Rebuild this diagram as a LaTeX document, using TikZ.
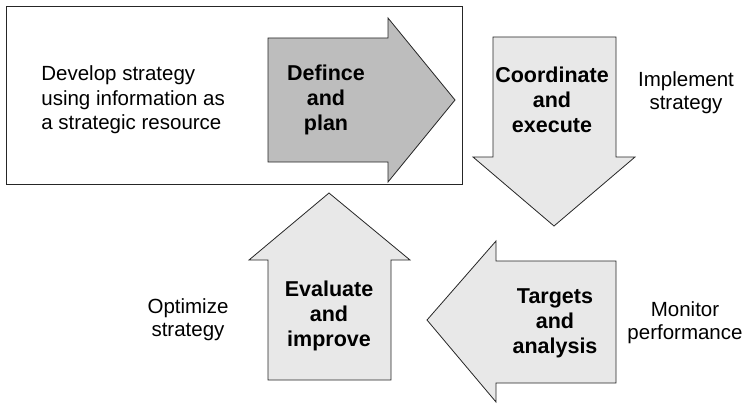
\documentclass[tikz,border=0pt]{standalone}
\usepackage{fontspec}
\setmainfont{Liberation Sans}
\usepackage{tikz}

\begin{document}
\begin{tikzpicture}[x=1pt,y=1pt,line width=0.8pt]
\tikzstyle{every node}+=[inner sep=0pt, align=center, font=\fontsize{20.5}{23}\selectfont]
\tikzstyle{label}=[font=\fontsize{21.5}{25}\selectfont\bfseries]
\tikzstyle{dark}=[draw=black!85, fill=black!26]
\tikzstyle{light}=[draw=black!85, fill=black!9]
\useasboundingbox (0,0) rectangle (747,-404);
\draw [black!85] (6,-6) rectangle (462,-184);
\draw (41,-100) node [anchor=west, align=left, font=\fontsize{20.5}{24.5}\selectfont] (develop) {Develop strategy\\using information as\\a strategic resource};
\draw [dark] (268,-38) -- (388,-38) -- (388,-18) -- (455,-100) -- (388,-182) -- (388,-162) -- (268,-162) -- cycle;
\draw (326,-100) node [label] (define) {Defince\\and\\plan};
\draw [light] (493,-37) -- (616,-37) -- (616,-157) -- (635,-157) -- (554,-226) -- (473,-157) -- (493,-157) -- cycle;
\draw (552,-100) node [label] (coord) {Coordinate\\and\\execute};
\draw (686,-93) node (implement) {Implement\\strategy};
\draw [light] (616,-261) -- (496,-261) -- (496,-241) -- (427,-320) -- (496,-402) -- (496,-383) -- (616,-383) -- cycle;
\draw (555,-323) node [label] (targets) {Targets\\and\\analysis};
\draw (685,-323) node (monitor) {Monitor\\performance};
\draw [light] (268,-380) -- (268,-260) -- (249,-260) -- (329,-193) -- (410,-260) -- (391,-260) -- (391,-380) -- cycle;
\draw (329,-316) node [label] (evaluate) {Evaluate\\and\\improve};
\draw (188,-320) node (optimize) {Optimize\\strategy};
\end{tikzpicture}
\end{document}
